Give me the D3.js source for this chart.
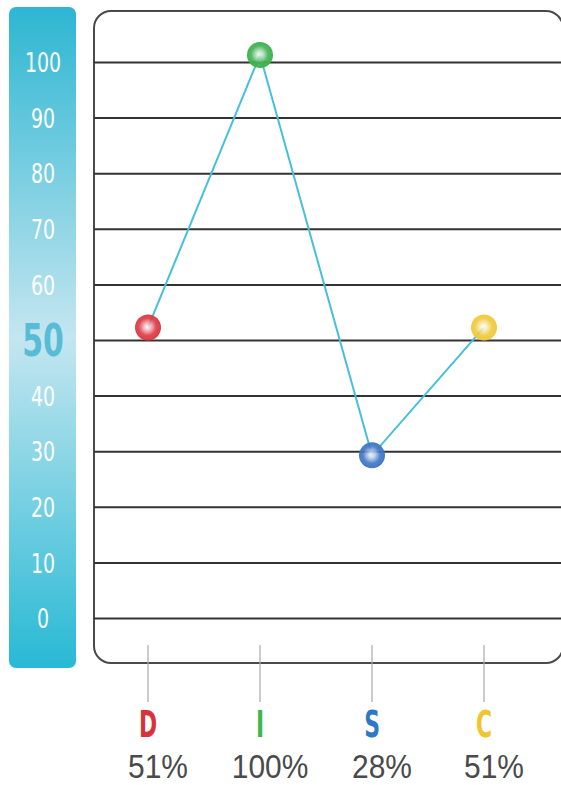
<!DOCTYPE html>
<html>
<head>
<meta charset="utf-8">
<script src="https://cdn.jsdelivr.net/npm/d3@7"></script>
<style>
  html, body { margin: 0; padding: 0; background: #fff; }
  svg { display: block; }
</style>
</head>
<body>
<svg id="chart"></svg>
<script>
const categories = ['D', 'I', 'S', 'C'];
const scores = [51, 100, 28, 51];
const pointColors = ['#dc3a44', '#3fb150', '#3f76c4', '#f0c93c'];
const letterColors = ['#d9323d', '#3db54f', '#2f77c8', '#f0c52f'];
const tickValues = [0, 10, 20, 30, 40, 50, 60, 70, 80, 90, 100];

const width = 561;
const height = 785;
const narrow = "'Liberation Sans Narrow', 'DejaVu Sans Condensed', sans-serif";

const svg = d3.select('#chart')
  .attr('width', width)
  .attr('height', height);

const defs = svg.append('defs');

const barGrad = defs.append('linearGradient')
  .attr('id', 'barGrad')
  .attr('x1', 0).attr('y1', 0).attr('x2', 0).attr('y2', 1);
barGrad.append('stop').attr('offset', '0%').attr('stop-color', '#2db6d2');
barGrad.append('stop').attr('offset', '50%').attr('stop-color', '#c4e6f0');
barGrad.append('stop').attr('offset', '100%').attr('stop-color', '#28b9d4');

pointColors.forEach((c, i) => {
  const g = defs.append('radialGradient')
    .attr('id', `pt${i}`)
    .attr('cx', '48%').attr('cy', '48%').attr('r', '55%');
  g.append('stop').attr('offset', '0%').attr('stop-color', '#ffffff').attr('stop-opacity', 0.8);
  g.append('stop').attr('offset', '60%').attr('stop-color', c).attr('stop-opacity', 0.9);
  g.append('stop').attr('offset', '100%').attr('stop-color', c);
});

const yScale = d3.scaleLinear()
  .domain([0, 100])
  .range([618, 62]);

const xScale = d3.scalePoint()
  .domain(categories)
  .range([148, 484]);

// left coloured scale bar
svg.append('rect')
  .attr('x', 9)
  .attr('y', 7)
  .attr('width', 67)
  .attr('height', 661)
  .attr('rx', 7)
  .attr('fill', 'url(#barGrad)');

const yAxis = svg.append('g')
  .attr('transform', 'translate(43,0)')
  .call(d3.axisRight(yScale).tickValues(tickValues).tickSize(0).tickPadding(0));
yAxis.select('.domain').remove();
yAxis.selectAll('text')
  .attr('text-anchor', 'middle')
  .attr('dy', '0.36em')
  .attr('transform', 'scale(0.78,1)')
  .attr('font-family', narrow)
  .attr('font-size', 27)
  .attr('fill', '#ffffff');
yAxis.selectAll('.tick')
  .filter(d => d === 50)
  .select('text')
  .attr('font-size', 45)
  .attr('font-weight', 'bold')
  .attr('fill', '#58bcd7')
  .attr('dy', '0.34em')
  .attr('transform', 'scale(0.74,1)');

// plot frame
svg.append('rect')
  .attr('x', 94)
  .attr('y', 11)
  .attr('width', 469)
  .attr('height', 652)
  .attr('rx', 17)
  .attr('fill', 'none')
  .attr('stroke', '#4a4a4a')
  .attr('stroke-width', 2);

// grid lines
const grid = svg.append('g')
  .attr('transform', 'translate(94,0)')
  .call(d3.axisRight(yScale).tickValues(tickValues).tickSize(width - 94).tickFormat(''));
grid.select('.domain').remove();
grid.selectAll('line')
  .attr('stroke', '#333')
  .attr('stroke-width', 2);

// category ticks below the frame
svg.append('g')
  .selectAll('line')
  .data(categories)
  .join('line')
  .attr('x1', d => xScale(d))
  .attr('x2', d => xScale(d))
  .attr('y1', 645)
  .attr('y2', 702)
  .attr('stroke', '#a8a8a8')
  .attr('stroke-width', 1.2);

svg.append('g')
  .selectAll('text')
  .data(categories)
  .join('text')
  .attr('transform', d => `translate(${xScale(d)},737) scale(0.64,1)`)
  .attr('text-anchor', 'middle')
  .attr('font-family', narrow)
  .attr('font-weight', 'bold')
  .attr('font-size', 38)
  .attr('fill', (d, i) => letterColors[i])
  .text(d => d);

// percentage labels sit a bit right of the tick
svg.append('g')
  .selectAll('text')
  .data(scores)
  .join('text')
  .attr('transform', (d, i) => `translate(${xScale(categories[i]) + 10},778) scale(0.88,1)`)
  .attr('text-anchor', 'middle')
  .attr('font-family', "'Liberation Sans', Arial, sans-serif")
  .attr('font-size', 34)
  .attr('fill', '#4a4a4a')
  .text(d => `${d}%`);

// line + markers (markers sit a little above the value, like pins)
const lift = 7;
const line = d3.line()
  .x((d, i) => xScale(categories[i]))
  .y(d => yScale(d) - lift);

svg.append('path')
  .datum(scores)
  .attr('fill', 'none')
  .attr('stroke', '#46c0d9')
  .attr('stroke-width', 2)
  .attr('d', line);

svg.append('g')
  .selectAll('circle')
  .data(scores)
  .join('circle')
  .attr('cx', (d, i) => xScale(categories[i]))
  .attr('cy', d => yScale(d) - lift)
  .attr('r', 13)
  .attr('fill', (d, i) => `url(#pt${i})`);
</script>
</body>
</html>
